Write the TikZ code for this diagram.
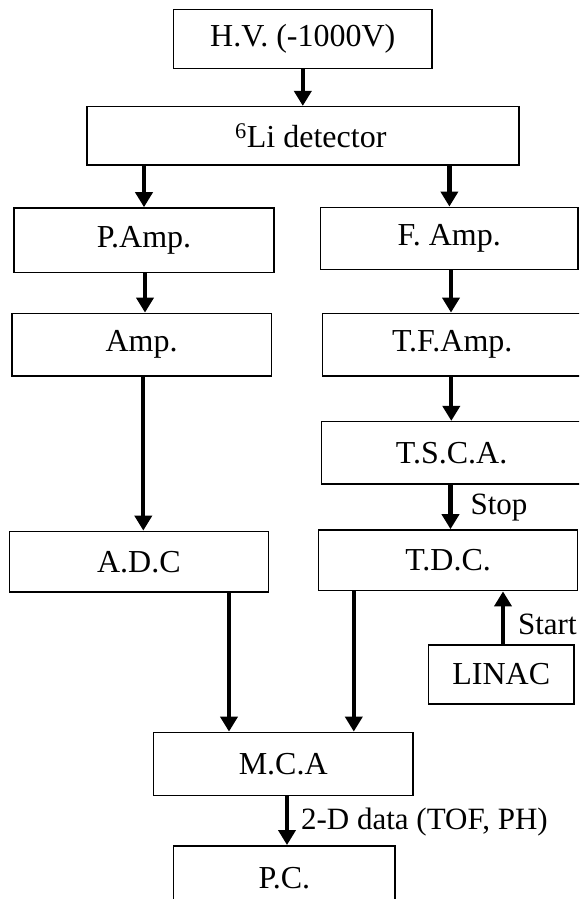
\documentclass[tikz,border=0pt]{standalone}
\usepackage{fontspec}
\setmainfont{Liberation Serif}
\usetikzlibrary{arrows.meta}
\begin{document}
\begin{tikzpicture}[x=1pt,y=-1pt,
  box/.style={draw,line width=1.5pt,inner sep=0pt,font=\fontsize{32}{38}\selectfont},
  lbl/.style={inner sep=0pt,anchor=west,font=\fontsize{31}{36}\selectfont},
  arr/.style={line width=4.2pt,-{Triangle[width=17pt,length=15pt]}}]
\useasboundingbox (0,0) rectangle (579,899);
\clip (0,0) rectangle (579,899);
\node[box,minimum width=258.4pt,minimum height=59pt] (hv) at (302.8,38.8) {H.V. (-1000V)};
\node[box,minimum width=432pt,minimum height=58.3pt] (li) at (302.8,135.8) {\hspace{16pt}\textsuperscript{6}Li detector};
\node[box,minimum width=260pt,minimum height=64.7pt] (pamp) at (144,240.3) {P.Amp.};
\node[box,minimum width=257.5pt,minimum height=62pt] (famp) at (449.3,238.3) {F. Amp.};
\node[box,minimum width=259.6pt,minimum height=62.7pt] (amp) at (141.6,344.7) {Amp.};
\node[box,minimum width=259.6pt,minimum height=62.7pt] (tfamp) at (452.2,344.7) {T.F.Amp.};
\node[box,minimum width=260.7pt,minimum height=62.3pt] (tsca) at (451.6,452.8) {T.S.C.A.};
\node[box,minimum width=259.3pt,minimum height=60.7pt] (adc) at (138.9,561.7) {A.D.C};
\node[box,minimum width=258.8pt,minimum height=60.7pt] (tdc) at (448.1,560.3) {T.D.C.};
\node[box,minimum width=145.8pt,minimum height=59pt] (linac) at (501.3,674.5) {LINAC};
\node[box,minimum width=259.2pt,minimum height=63.3pt] (mca) at (283.2,764) {M.C.A};
\node[box,minimum width=221.4pt,minimum height=65pt] (pc) at (284.3,878.3) {P.C.};
\coordinate (xa) at (144,0);
\coordinate (xb) at (449.4,0);
\coordinate (xc) at (145,0);
\coordinate (xd) at (451,0);
\coordinate (xe) at (143.3,0);
\coordinate (xf) at (451.3,0);
\coordinate (xg) at (450.5,0);
\coordinate (xh) at (229,0);
\coordinate (xi) at (353.8,0);
\coordinate (xj) at (503,0);
\coordinate (xk) at (287,0);
\draw[arr] (hv.south) -- (li.north);
\draw[arr] (li.south -| xa) -- (pamp.north -| xa);
\draw[arr] (li.south -| xb) -- (famp.north -| xb);
\draw[arr] (pamp.south -| xc) -- (amp.north -| xc);
\draw[arr] (famp.south -| xd) -- (tfamp.north -| xd);
\draw[arr] (amp.south -| xe) -- (adc.north -| xe);
\draw[arr] (tfamp.south -| xf) -- (tsca.north -| xf);
\draw[arr] (tsca.south -| xg) -- node[lbl,xshift=18pt,yshift=-1pt] (stop) {Stop} (tdc.north -| xg);
\draw[arr] (adc.south -| xh) -- (mca.north -| xh);
\draw[arr] (tdc.south -| xi) -- (mca.north -| xi);
\draw[arr] (linac.north -| xj) -- node[lbl,xshift=13pt,yshift=-7pt] (start) {Start} (tdc.south -| xj);
\draw[arr] (mca.south -| xk) -- node[lbl,xshift=12pt,yshift=-1pt] (data) {2-D data (TOF, PH)} (pc.north -| xk);
\end{tikzpicture}
\end{document}
